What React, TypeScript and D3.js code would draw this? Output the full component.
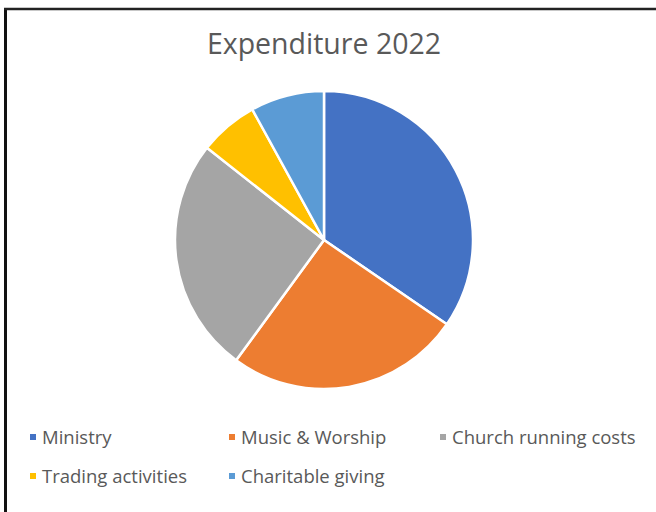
import React from "react";
import * as d3 from "d3";

const categories = ["Ministry", "Music & Worship", "Church running costs", "Trading activities", "Charitable giving"];
const values = [34.6, 25.5, 25.6, 6.4, 8.0];
const colors = ["#4472C4", "#ED7D31", "#A5A5A5", "#FFC000", "#5B9BD5"];
const title = "Expenditure 2022";

export default function App() {
  const W = 656, H = 512;
  const cx = 324, cy = 240, r = 149;
  const pie = d3.pie<number>().sort(null).value((d) => d);
  const arcs = pie(values);
  const arc = d3.arc<d3.PieArcDatum<number>>().innerRadius(0).outerRadius(r);
  const legendPos = [
    { x: 33, y: 437 },
    { x: 232, y: 437 },
    { x: 443, y: 437 },
    { x: 33, y: 476 },
    { x: 232, y: 476 },
  ];
  return (
    <svg width={W} height={H} style={{ position: "absolute", left: 0, top: 0, fontFamily: "'Open Sans', sans-serif" }}>
      <rect x={0} y={0} width={W} height={H} fill="#fff" />
      <line x1={5.5} y1={8} x2={5.5} y2={H} stroke="#111" strokeWidth={3} />
      <line x1={4} y1={9} x2={W} y2={9} stroke="#222" strokeWidth={2.5} />
      <text x={cx} y={54} textAnchor="middle" fontSize={28.5} fill="#595959">{title}</text>
      <g transform={`translate(${cx},${cy})`}>
        {arcs.map((a, i) => (
          <path key={i} d={arc(a) || ""} fill={colors[i]} stroke="#fff" strokeWidth={2.5} strokeLinejoin="round" />
        ))}
      </g>
      {categories.map((c, i) => (
        <g key={c}>
          <rect x={legendPos[i].x - 3} y={legendPos[i].y - 3} width={6} height={6} fill={colors[i]} />
          <text x={legendPos[i].x + 9} y={legendPos[i].y + 6.5} fontSize={18.5} fill="#595959">{c}</text>
        </g>
      ))}
    </svg>
  );
}
